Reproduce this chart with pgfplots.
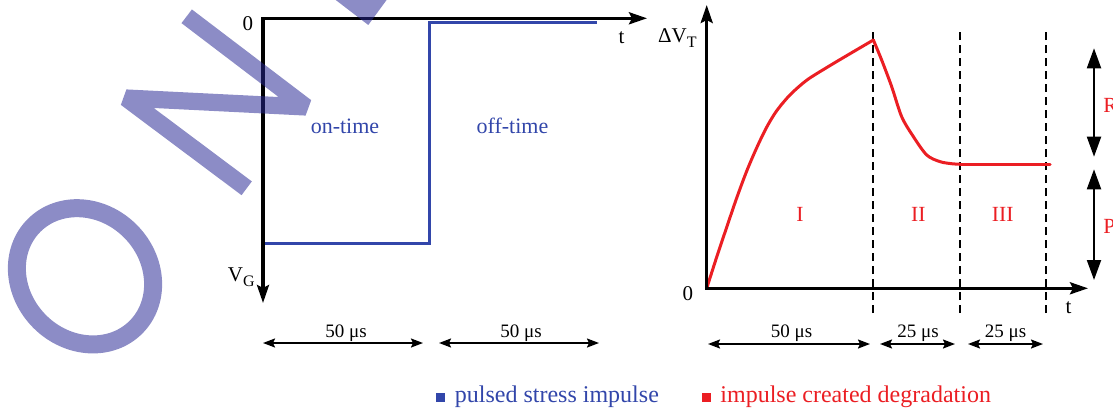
\documentclass[border=0pt]{standalone}
\usepackage{fontspec}
\setmainfont{Liberation Serif}
\usepackage{pgfplots}
\pgfplotsset{compat=1.18}
\usetikzlibrary{arrows.meta}
\definecolor{pblue}{RGB}{50,70,170}
\definecolor{pred}{RGB}{235,30,35}
\definecolor{wm}{RGB}{38,38,147}
\tikzset{
  axarrow/.style={line width=1.6pt, line join=miter, {Stealth[length=9pt,width=6pt,inset=1.5pt]}-{Stealth[length=9pt,width=6pt,inset=1.5pt]}},
  dimarrow/.style={line width=0.9pt, {Stealth[length=6pt,width=4.5pt,inset=1pt]}-{Stealth[length=6pt,width=4.5pt,inset=1pt]}},
  bigarrow/.style={line width=1pt, {Triangle[length=10pt,width=7pt]}-{Triangle[length=10pt,width=7pt]}},
  lbl/.style={inner sep=0pt, font=\fontsize{10.5}{12}\selectfont},
}
\begin{document}
\begin{tikzpicture}
\path[use as bounding box, clip] (0,0) rectangle (556.5pt,204pt);

% ---------- left: pulsed stress impulse ----------
\begin{axis}[at={(131.5pt,52.5pt)}, anchor=south west, scale only axis,
  width=192pt, height=142.35pt,
  xmin=0, xmax=115, ymin=-1.265, ymax=0, hide axis, clip=false]
\addplot[pblue, line width=1.5pt, line join=miter] coordinates {(0,-1) (50,-1) (50,-0.018) (100,-0.018)};
\draw[axarrow] (axis cs:115,0) -- (axis cs:0,0) -- (axis cs:0,-1.265);
\end{axis}

% ---------- right: impulse created degradation ----------
\begin{axis}[at={(353.35pt,59.85pt)}, anchor=south west, scale only axis,
  width=190.65pt, height=141.65pt,
  xmin=0, xmax=114.4, ymin=0, ymax=1.141, hide axis, clip=false]
\draw[black, line width=1pt, dash pattern=on 4pt off 2.5pt] (axis cs:50,-0.0995) -- (axis cs:50,1.032);
\draw[black, line width=1pt, dash pattern=on 4pt off 2.5pt] (axis cs:76,-0.0995) -- (axis cs:76,1.032);
\draw[black, line width=1pt, dash pattern=on 4pt off 2.5pt] (axis cs:101.7,-0.0995) -- (axis cs:101.7,1.032);
\addplot[pred, line width=1.5pt, line cap=round, smooth, tension=0.5] coordinates {(0,0) (3,0.126) (6,0.246) (9,0.364) (12,0.472) (15,0.566) (18,0.649) (21,0.715) (25,0.779) (30,0.838) (36,0.889) (42,0.937) (50,1)};
\addplot[pred, line width=1.5pt, line cap=round, smooth, tension=0.5] coordinates {(50,1) (52.5,0.919) (55.5,0.812) (58.5,0.691) (62,0.611) (66,0.537) (70,0.510) (74,0.501) (76,0.5)};
\addplot[pred, line width=1.5pt, line cap=round] coordinates {(76,0.5) (103,0.5)};
\draw[axarrow] (axis cs:0,1.141) -- (axis cs:0,0) -- (axis cs:114.4,0);
\end{axis}

% ---------- annotations (pixel coordinates) ----------
\begin{scope}[x=0.5pt, y=-0.5pt, yshift=204pt]
% left labels
\node[lbl, anchor=base east] at (253.5,30) {0};
\node[lbl, anchor=base] at (621.5,43.3) {t};
\node[lbl, anchor=base east] at (255,281.7) {V\raisebox{-0.45ex}{\fontsize{8}{9}\selectfont G}};
\node[inner sep=0pt, anchor=base, text=pblue, font=\fontsize{11}{13}\selectfont] at (345,133.3) {on-time};
\node[inner sep=0pt, anchor=base, text=pblue, font=\fontsize{11}{13}\selectfont] at (512.5,133.3) {off-time};
\draw[dimarrow] (263,343) -- (423,343);
\draw[dimarrow] (439,343) -- (599,343);
\node[inner sep=0pt, anchor=base, font=\fontsize{9.5}{11}\selectfont] at (346,337) {50 μs};
\node[inner sep=0pt, anchor=base, font=\fontsize{9.5}{11}\selectfont] at (521,337) {50 μs};
% right labels
\node[lbl, anchor=base east] at (697,42.7) {ΔV\raisebox{-0.5ex}{\fontsize{8}{9}\selectfont T}};
\node[lbl, anchor=base east] at (693.5,300) {0};
\node[lbl, anchor=base] at (1068.5,313.3) {t};
\node[inner sep=0pt, anchor=base, text=pred, font=\fontsize{10.8}{12}\selectfont] at (800,221) {I};
\node[inner sep=0pt, anchor=base, text=pred, font=\fontsize{10.8}{12}\selectfont] at (918.3,221) {II};
\node[inner sep=0pt, anchor=base, text=pred, font=\fontsize{10.8}{12}\selectfont] at (1002.7,221) {III};
\draw[dimarrow] (708,344) -- (870,344);
\draw[dimarrow] (880,344) -- (955,344);
\draw[dimarrow] (968,344) -- (1043,344);
\node[inner sep=0pt, anchor=base, font=\fontsize{9.5}{11}\selectfont] at (791.6,337) {50 μs};
\node[inner sep=0pt, anchor=base, font=\fontsize{9.5}{11}\selectfont] at (918,337) {25 μs};
\node[inner sep=0pt, anchor=base, font=\fontsize{9.5}{11}\selectfont] at (1005.5,337) {25 μs};
\draw[bigarrow] (1094,48.3) -- (1094,156.7);
\draw[bigarrow] (1094,169.3) -- (1094,280);
\node[inner sep=0pt, anchor=base west, text=pred, font=\fontsize{10.8}{12}\selectfont] at (1103,112) {R};
\node[inner sep=0pt, anchor=base west, text=pred, font=\fontsize{10.8}{12}\selectfont] at (1103,233) {P};
% legend
\fill[pblue] (436,393) rectangle (445,402);
\node[inner sep=0pt, anchor=base west, text=pblue, font=\fontsize{12}{14}\selectfont] at (454.5,402) {pulsed stress impulse};
\fill[pred] (702,393) rectangle (711,402);
\node[inner sep=0pt, anchor=base west, text=pred, font=\fontsize{12}{14}\selectfont] at (720,402) {impulse created degradation};
% watermark
\draw[wm, opacity=0.53, line width=9pt, rotate around={-45:(85,276.3)}] (85,276.3) ellipse [x radius=36pt, y radius=32pt];
\draw[wm, opacity=0.53, line width=8.6pt, line join=bevel, line cap=butt] (186.7,16.3) -- (306,107) -- (126,98) -- (246.7,188.3);
\fill[wm, opacity=0.53] (330.5,-4) -- (389.5,-4) -- (368.3,25) -- cycle;
\end{scope}
\end{tikzpicture}
\end{document}
